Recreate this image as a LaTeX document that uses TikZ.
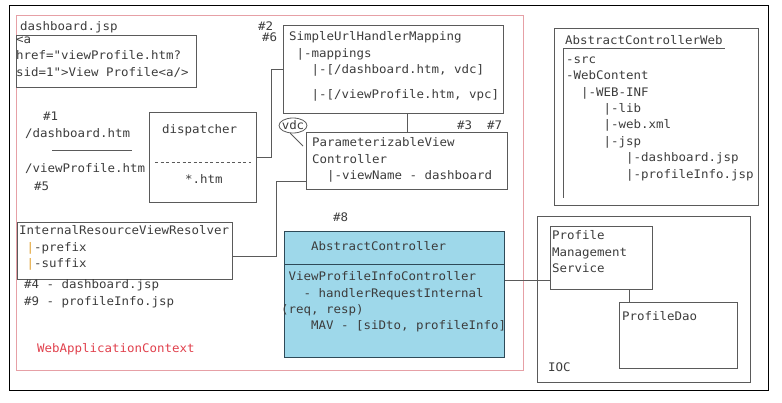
\documentclass[tikz,border=0pt]{standalone}
\usepackage{fontspec}
\usepackage{xcolor}
\usepackage{tikz}
\usetikzlibrary{shapes.geometric}
\newfontfamily\monofnt[FakeStretch=1.055]{DejaVu Sans Mono}
\definecolor{box_gray}{HTML}{5A5A5A}
\definecolor{text_gray}{HTML}{3C3C3C}
\definecolor{ctx_red}{HTML}{E6A0A6}
\definecolor{label_red}{HTML}{E0404C}
\definecolor{ctrl_blue}{HTML}{9ED8EA}
\definecolor{ctrl_edge}{HTML}{2E4A58}
\definecolor{bar_orange}{HTML}{E0A030}

\begin{document}
\begin{tikzpicture}[x=1pt, y=-1pt,
        box/.style={draw=box_gray, line width=0.9pt, inner sep=0pt, anchor=north west},
        txt/.style={anchor=north west, inner sep=0pt, align=left, text=text_gray,
            font=\monofnt\fontsize{11.8}{16.4}\selectfont, yshift=11.48pt,
            execute at begin node=\strut},
        wire/.style={draw=box_gray, line width=0.9pt}]
                \useasboundingbox (0,0) rectangle (782,403);
                \draw[black, line width=0.8pt] (9,5) rectangle (768,390);
                \draw[ctx_red, line width=0.9pt] (16,15) rectangle (523,370);
                \node[txt] (jspname) at (20,30) {dashboard.jsp};
                \node[box, minimum width=180pt, minimum height=52pt] (link) at (16,35) {};
                \node[txt] (linktext) at (16,48) {<a\\href="viewProfile.htm?\\sid=1">View Profile<a/>};

                \node[txt] (num1) at (43,120) {\#1};
                \node[txt] (dashurl) at (25,137) {/dashboard.htm};
                \draw[wire] (52,150) -- (132,150);
                \node[txt] (viewurl) at (25,172) {/viewProfile.htm};
                \node[txt] (num5) at (34,190) {\#5};

                \node[box, minimum width=107pt, minimum height=90pt] (dispatcher) at (149,112) {};
                \node[txt] (dispname) at (162,133) {dispatcher};
                \draw[wire, dash pattern=on 3pt off 2.5pt] (155,162) -- (251,162);
                \node[txt] (disppattern) at (185,183) {*.htm};

                \node[box, minimum width=220pt, minimum height=88pt] (urlmap) at (283,25) {};
                \node[txt] (urlmaptext) at (289,43) {SimpleUrlHandlerMapping\\~|-mappings\\~~~|-[/dashboard.htm, vdc]};
                \node[txt] (urlmaplast) at (289,98) {~~~|-[/viewProfile.htm, vpc]};
                \node[txt] (num2) at (258,30) {\#2};
                \node[txt] (num6) at (262,41) {\#6};
                \draw[wire] (dispatcher.east) -- ++(15,0) |- (urlmap.west);

                \node[box, minimum width=201pt, minimum height=57pt] (pvc) at (306,132) {};
                \node[txt] (pvctext) at (312,149) {ParameterizableView\\Controller\\~~|-viewName - dashboard};
                \node[txt] (num37) at (457,129) {\#3~~\#7};
                \node[ellipse, draw=box_gray, line width=0.8pt, minimum width=28pt, minimum height=15pt,
                    inner sep=0pt, text=text_gray, font=\monofnt\fontsize{11.8}{14}\selectfont] (vdc) at (293,125.5) {\makebox[0pt]{vdc}};
                \draw[wire] (vdc.-110) -- ([xshift=-3pt, yshift=-14pt]pvc.north west);
                \draw[wire] (urlmap.south -| pvc.north) -- (pvc.north);

                \node[box, minimum width=215pt, minimum height=57pt] (viewres) at (17,222) {};
                \node[txt] (viewrestext) at (19,237) {InternalResourceViewResolver\\~\textcolor{bar_orange}{|}-prefix\\~\textcolor{bar_orange}{|}-suffix};
                \node[txt] (jspnames) at (24,291) {\#4 - dashboard.jsp\\\#9 - profileInfo.jsp};
                \draw[wire] ([yshift=-21pt]pvc.west) -- ++(-30,0) |- ([yshift=-6pt]viewres.east);
                \node[txt, text=label_red] (ctxname) at (37,352) {WebApplicationContext};

                \node[txt] (num8) at (333,221) {\#8};
                \node[box, draw=ctrl_edge, fill=ctrl_blue, minimum width=220pt, minimum height=126pt] (ctrl) at (284,231) {};
                \draw[ctrl_edge, line width=0.9pt] (ctrl.west |- 0,264) -- (ctrl.east |- 0,264);
                \node[txt] (ctrlbase) at (311,250) {AbstractController};
                \node[txt] (ctrltext) at (281,283) {~ViewProfileInfoController\\~~~- handlerRequestInternal\\(req, resp)\\~~~~MAV - [siDto, profileInfo]};

                \node[box, minimum width=204pt, minimum height=177pt] (acw) at (554,28) {};
                \node[txt] (acwtitle) at (565,44) {AbstractControllerWeb};
                \draw[wire] (563,198) -- (563,48) -- (725,48);
                \node[txt] (acwtree) at (566,68) {-src\\-WebContent\\~~|-WEB-INF\\~~~~~|-lib\\~~~~~|-web.xml\\~~~~~|-jsp\\~~~~~~~~|-dashboard.jsp\\~~~~~~~~|-profileInfo.jsp};

                \node[box, minimum width=213pt, minimum height=166pt] (ioc) at (537,216) {};
                \node[txt] (iocname) at (548,371) {IOC};
                \node[box, fill=white, minimum width=102pt, minimum height=63pt] (pms) at (550,226) {};
                \node[txt] (pmstext) at (552,242) {Profile\\Management\\Service};
                \node[box, minimum width=118pt, minimum height=66pt] (dao) at (619,302) {};
                \node[txt] (daotext) at (622,320) {ProfileDao};
                \coordinate (pmstap) at ([yshift=-54pt]pms.north west);
                \coordinate (daotap) at ([xshift=10pt]dao.north west);
                \draw[wire] (ctrl.east |- pmstap) -- (pmstap);
                \draw[wire] (daotap) -- (daotap |- pms.south);

            \end{tikzpicture}
\end{document}
